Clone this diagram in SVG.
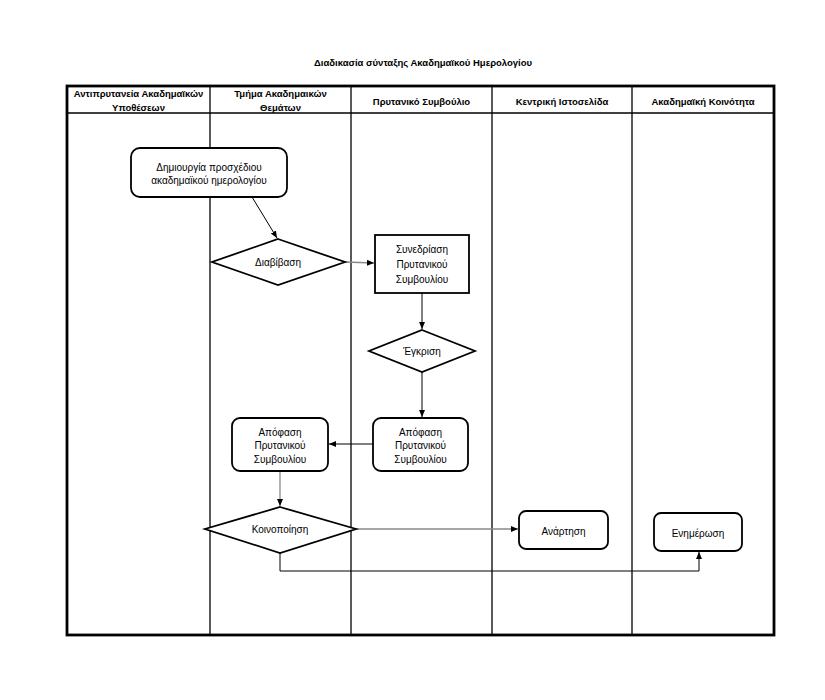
<svg xmlns="http://www.w3.org/2000/svg" width="825" height="700" viewBox="0 0 825 700">
<style>
text{font-family:"Liberation Sans",Arial,sans-serif;fill:#000;text-anchor:middle;dominant-baseline:central}
.t{font-size:9.5px;font-weight:bold}
.h{font-size:9.5px;font-weight:bold}
.n{font-size:10px}
.box{fill:#fff;stroke:#000;stroke-width:1.8}
.grid{stroke:#000;stroke-width:1.3;fill:none}
.c{fill:none;stroke:#000;stroke-width:1}
.g{fill:none;stroke:#888;stroke-width:1.3}
</style>
<defs>
<marker id="a" markerWidth="8" markerHeight="8" refX="7" refY="4" orient="auto" markerUnits="userSpaceOnUse">
<path d="M0,1 L7,4 L0,7 Z" fill="#000"/>
</marker>
</defs>
<rect width="825" height="700" fill="#fff"/>
<text class="t" x="423" y="62">Διαδικασία σύνταξης Ακαδημαϊκού Ημερολογίου</text>
<g id="table">
<rect x="67" y="86" width="707" height="549" fill="none" stroke="#000" stroke-width="2.8"/>
<line class="grid" x1="67" y1="113" x2="774" y2="113"/>
<line class="grid" x1="210" y1="86" x2="210" y2="635"/>
<line class="grid" x1="351" y1="86" x2="351" y2="635"/>
<line class="grid" x1="492" y1="86" x2="492" y2="635"/>
<line class="grid" x1="632" y1="86" x2="632" y2="635"/>
<text class="h" x="138.5" y="93">Αντιπρυτανεία Ακαδημαϊκών</text>
<text class="h" x="138.5" y="107">Υποθέσεων</text>
<text class="h" x="280.5" y="93">Τμήμα Ακαδημαικών</text>
<text class="h" x="280.5" y="107">Θεμάτων</text>
<text class="h" x="421.5" y="101">Πρυτανικό Συμβούλιο</text>
<text class="h" x="562" y="101">Κεντρική Ιστοσελίδα</text>
<text class="h" x="703" y="101">Ακαδημαϊκή Κοινότητα</text>
</g>
<g id="connectors">
<line class="c" x1="252" y1="197" x2="277" y2="238" marker-end="url(#a)"/>
<line class="g" x1="345" y1="262" x2="374" y2="263" marker-end="url(#a)"/>
<line class="c" x1="422" y1="293" x2="422" y2="329" marker-end="url(#a)"/>
<line class="c" x1="422" y1="372" x2="422" y2="417" marker-end="url(#a)"/>
<line class="c" x1="373" y1="444" x2="329" y2="444" marker-end="url(#a)"/>
<line class="g" x1="280" y1="471" x2="280" y2="506" marker-end="url(#a)"/>
<line class="g" x1="356" y1="529" x2="518" y2="529" marker-end="url(#a)"/>
<polyline class="c" points="280,553 280,571 699,571 699,552" marker-end="url(#a)"/>
</g>
<g id="n1">
<rect class="box" x="131" y="148" width="156" height="49" rx="9"/>
<text class="n" x="209" y="167">Δημιουργία προσχέδιου</text>
<text class="n" x="209" y="180">ακαδημαϊκού ημερολογίου</text>
</g>
<g id="n2">
<polygon class="box" points="278,239 345,262 278,285 212,262" stroke-width="1.5"/>
<text class="n" x="278" y="262">Διαβίβαση</text>
</g>
<g id="n3">
<rect class="box" x="375" y="235" width="94" height="58" stroke-width="2"/>
<text class="n" x="422" y="249">Συνεδρίαση</text>
<text class="n" x="422" y="264">Πρυτανικού</text>
<text class="n" x="422" y="279">Συμβουλίου</text>
</g>
<g id="n4">
<polygon class="box" points="422,330 475,351 422,372 369,351" stroke-width="1.5"/>
<text class="n" x="422" y="351">Έγκριση</text>
</g>
<g id="n5">
<rect class="box" x="373" y="418" width="95" height="53" rx="8"/>
<text class="n" x="420.5" y="432">Απόφαση</text>
<text class="n" x="420.5" y="445">Πρυτανικού</text>
<text class="n" x="420.5" y="459">Συμβουλίου</text>
</g>
<g id="n6">
<rect class="box" x="232" y="418" width="96" height="53" rx="8"/>
<text class="n" x="280" y="432">Απόφαση</text>
<text class="n" x="280" y="445">Πρυτανικού</text>
<text class="n" x="280" y="459">Συμβουλίου</text>
</g>
<g id="n7">
<polygon class="box" points="280,507 356,529 280,553 205,529" stroke-width="1.5"/>
<text class="n" x="280" y="529">Κοινοποίηση</text>
</g>
<g id="n8">
<rect class="box" x="519" y="511" width="89" height="38" rx="7"/>
<text class="n" x="563.5" y="531">Ανάρτηση</text>
</g>
<g id="n9">
<rect class="box" x="654" y="513" width="88" height="38" rx="7"/>
<text class="n" x="698" y="533">Ενημέρωση</text>
</g>
</svg>
